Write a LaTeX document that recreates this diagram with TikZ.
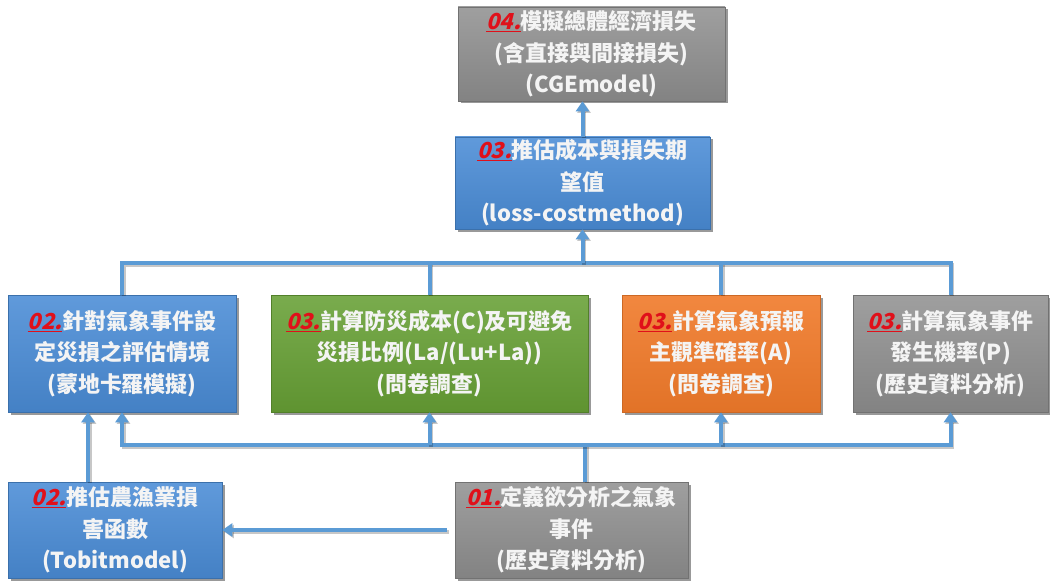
\documentclass[tikz,border=0pt]{standalone}
\usepackage{fontspec}
\usetikzlibrary{arrows.meta,shadows}
\newfontfamily\cjk{Noto Sans CJK TC}
\newfontfamily\cjkit{Noto Sans CJK TC}[FakeSlant=0.25]
\definecolor{numred}{HTML}{E0101A}
\definecolor{bluebox}{HTML}{4A8CD6}
\definecolor{greenbox}{HTML}{67A035}
\definecolor{orangebox}{HTML}{F07A2A}
\definecolor{graybox}{HTML}{8E8E8E}
\definecolor{conn}{HTML}{5B9BD5}
\definecolor{txt}{HTML}{F4F4F4}
\newcommand\stepnum[1]{\textcolor{numred}{\underline{{\cjkit\bfseries #1}}}}
\tikzset{
  boxbase/.style={rectangle, align=center, text=txt, inner sep=2pt,
    font=\fontsize{22}{31.5}\selectfont\cjk\bfseries,
    drop shadow={shadow xshift=2.5pt, shadow yshift=-2.5pt, opacity=0.4, fill=black}},
  bluestyle/.style={boxbase, top color=bluebox!88!white, bottom color=bluebox!92!black, draw=bluebox!80!black, line width=0.6pt},
  greenstyle/.style={boxbase, top color=greenbox!88!white, bottom color=greenbox!92!black, draw=greenbox!80!black, line width=0.6pt},
  orangestyle/.style={boxbase, top color=orangebox!90!white, bottom color=orangebox!94!black, draw=orangebox!85!black, line width=0.6pt},
  graystyle/.style={boxbase, top color=graybox!85!white, bottom color=graybox!92!black, draw=graybox!80!black, line width=0.6pt},
  link/.style={draw=conn, line width=4pt,
    preaction={draw=black, opacity=0.22, line width=4pt, transform canvas={shift={(1.5pt,-1.5pt)}}}},
  linkarrow/.style={link, -{Triangle[width=13pt,length=10pt]}},
}
\begin{document}
\begin{tikzpicture}[x=1pt,y=-1pt]
\useasboundingbox (0,0) rectangle (1050,583);

\node[graystyle, minimum width=267pt, minimum height=94pt] (cge) at (591.5,54)
  {\stepnum{04.}模擬總體經濟損失\\(含直接與間接損失)\\(CGEmodel)};
\node[bluestyle, minimum width=255pt, minimum height=92pt] (lc) at (582.5,183)
  {\stepnum{03.}推估成本與損失期\\望值\\(loss-costmethod)};
\node[bluestyle, minimum width=228pt, minimum height=117pt] (sc) at (122,353.5)
  {\stepnum{02.}針對氣象事件設\\定災損之評估情境\\(蒙地卡羅模擬)};
\node[greenstyle, minimum width=317pt, minimum height=117pt] (cost) at (429.5,353.5)
  {\stepnum{03.}計算防災成本(C)及可避免\\災損比例(La/(Lu+La))\\(問卷調查)};
\node[orangestyle, minimum width=198pt, minimum height=117pt] (acc) at (721,353.5)
  {\stepnum{03.}計算氣象預報\\主觀準確率(A)\\(問卷調查)};
\node[graystyle, minimum width=195pt, minimum height=117pt] (prob) at (950.5,353.5)
  {\stepnum{03.}計算氣象事件\\發生機率(P)\\(歷史資料分析)};
\node[bluestyle, minimum width=214pt, minimum height=96pt] (tobit) at (115,530)
  {\stepnum{02.}推估農漁業損\\害函數\\(Tobitmodel)};
\node[graystyle, minimum width=233pt, minimum height=96pt] (ev) at (571.5,530)
  {\stepnum{01.}定義欲分析之氣象\\事件\\(歷史資料分析)};

\coordinate (busT) at (585,263);
\coordinate (busB) at (585,445);
\coordinate (fromev) at (447,530);
\coordinate (leftcol) at (88,0);

% top bus
\draw[link] (sc.north) -- (sc.north |- busT) -- (prob.north |- busT) -- (prob.north);
\draw[link] (cost.north) -- (cost.north |- busT);
\draw[link] (acc.north) -- (acc.north |- busT);
\draw[linkarrow] (lc.south |- busT) -- (lc.south);
\draw[linkarrow] (lc.north) -- (lc.north |- cge.south);

% bottom bus
\draw[link] (ev.north -| busB) -- (busB);
\draw[linkarrow] (busB) -- (sc.south |- busB) -- (sc.south);
\draw[linkarrow] (busB) -- (prob.south |- busB) -- (prob.south);
\draw[linkarrow] (cost.south |- busB) -- (cost.south);
\draw[linkarrow] (acc.south |- busB) -- (acc.south);

% left column
\draw[linkarrow] (tobit.north -| leftcol) -- (sc.south -| leftcol);
\draw[linkarrow] (fromev) -- (tobit.east |- fromev);
\end{tikzpicture}
\end{document}
